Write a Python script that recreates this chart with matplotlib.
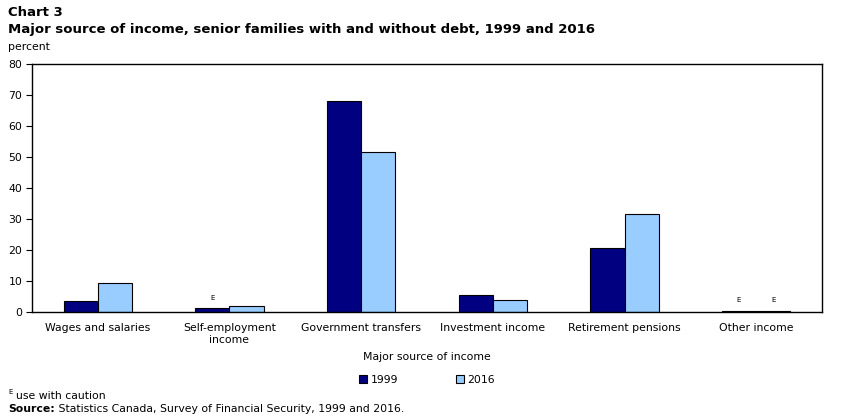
import matplotlib.pyplot as plt
import numpy as np

categories = ["Wages and salaries", "Self-employment\nincome", "Government transfers",
              "Investment income", "Retirement pensions", "Other income"]
values_1999 = [3.5, 1.2, 68.0, 5.5, 20.6, 0.3]
values_2016 = [9.3, 1.8, 51.6, 3.8, 31.6, 0.4]
# "E" quality flags (use with caution)
flag_1999 = [False, True, False, False, False, True]
flag_2016 = [False, False, False, False, False, True]
yticks = [0, 10, 20, 30, 40, 50, 60, 70, 80]

plt.rcParams['font.family'] = ['DejaVu Sans']
plt.rcParams['font.size'] = 7.8

fig = plt.figure(figsize=(8.51, 4.16), dpi=100)
ax = fig.add_axes([32/851, 1-312/416, 790/851, 248/416])

x = np.arange(len(categories))
w = 0.26
b1 = ax.bar(x - w/2, values_1999, w, color='#000080', edgecolor='black', linewidth=0.8, label='1999')
b2 = ax.bar(x + w/2, values_2016, w, color='#99CCFF', edgecolor='black', linewidth=0.8, label='2016')

for i in range(len(categories)):
    if flag_1999[i]:
        ax.text(x[i] - w/2, values_1999[i] + 2.5, 'E', ha='center', va='bottom', fontsize=5)
    if flag_2016[i]:
        ax.text(x[i] + w/2, values_2016[i] + 2.5, 'E', ha='center', va='bottom', fontsize=5)

ax.set_xlim(-0.5, len(categories) - 0.5)
ax.set_ylim(0, 80)
ax.set_yticks(yticks)
ax.set_xticks(x)
ax.set_xticklabels(categories)
ax.tick_params(axis='x', length=0, pad=8)
ax.tick_params(axis='y', length=4, pad=3)
for s in ax.spines.values():
    s.set_linewidth(1.0)

fig.text(8/851, 1-13/416, "Chart 3", fontsize=9.5, fontweight='bold', va='center')
fig.text(8/851, 1-30/416, "Major source of income, senior families with and without debt, 1999 and 2016",
         fontsize=9.5, fontweight='bold', va='center')
fig.text(8/851, 1-47/416, "percent", va='center')
fig.text(427/851, 1-357/416, "Major source of income", ha='center', va='center')

fig.legend(handles=[b1, b2], loc='center', bbox_to_anchor=(427/851, 1-380/416), ncol=2,
           frameon=False, handlelength=0.8, handleheight=0.8, columnspacing=5.3, handletextpad=0.3)

# footnotes
fig.text(8/851, 1-392/416, "E", fontsize=5, va='center')
fig.text(16/851, 1-396/416, "use with caution", va='center')
src = fig.text(8/851, 1-409/416, "Source:", fontweight='bold', va='center')
fig.add_artist(plt.Annotation(" Statistics Canada, Survey of Financial Security, 1999 and 2016.",
                              xy=(1, 0.5), xycoords=src, va='center', ha='left'))

fig.savefig('out.png', dpi=100)
